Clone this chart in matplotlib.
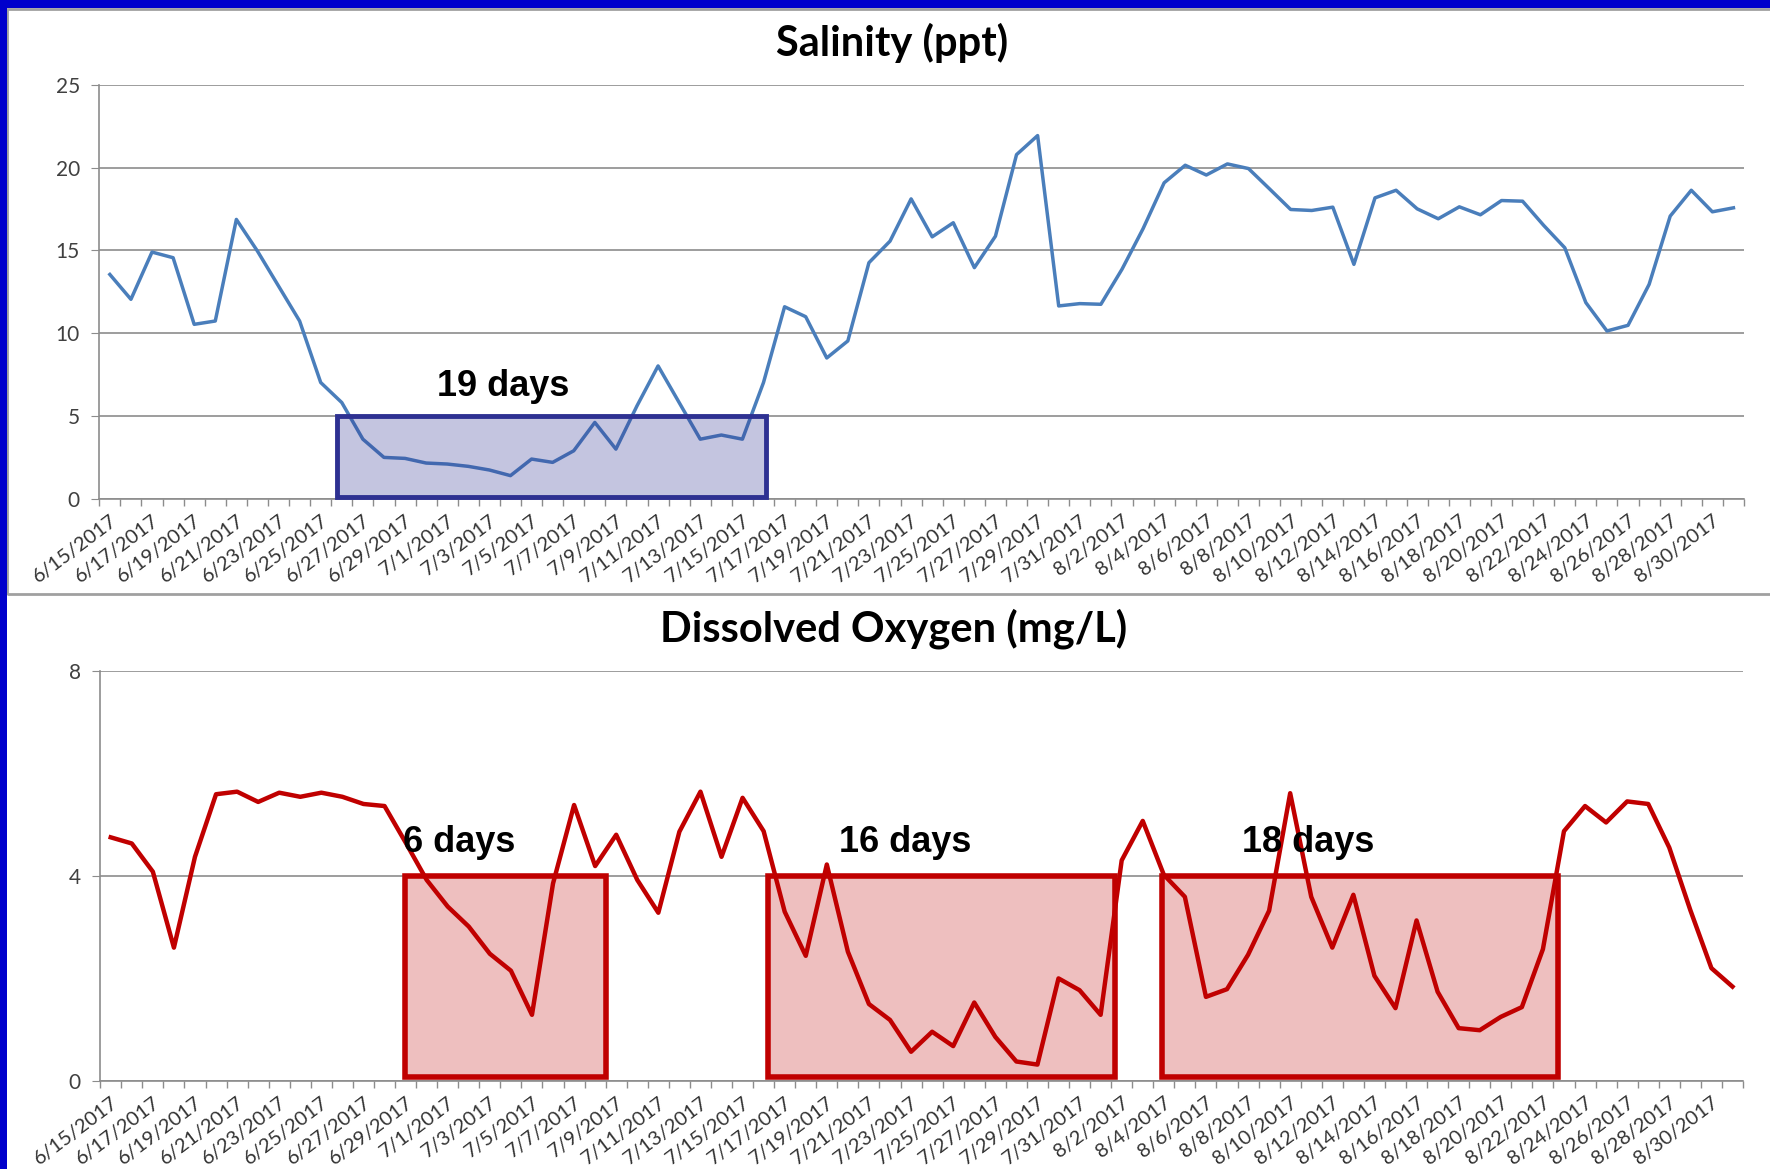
import matplotlib.pyplot as plt
import matplotlib.patches as patches
import pandas as pd

# daily categories 6/15/2017 .. 8/31/2017
dates = pd.date_range('2017-06-15', '2017-08-31', freq='D')
date_labels = [f"{d.month}/{d.day}/{d.year}" for d in dates]

# salinity (ppt)
salinity = [13.55, 12.05, 14.9, 14.56, 10.54, 10.74, 16.87, 14.96, 12.85, 10.74,
            7.03, 5.82, 3.61, 2.51, 2.45, 2.17, 2.11, 1.97, 1.75, 1.41,
            2.41, 2.21, 2.91, 4.62, 3.01, 5.62, 8.03, 5.82, 3.61, 3.86,
            3.61, 7.03, 11.6, 11.0, 8.51, 9.54, 14.26, 15.56, 18.11, 15.82,
            16.67, 13.96, 15.86, 20.78, 21.93, 11.65, 11.79, 11.75, 13.86, 16.31,
            19.08, 20.14, 19.55, 20.22, 19.94, 18.71, 17.47, 17.41, 17.61, 14.16,
            18.17, 18.63, 17.51, 16.91, 17.63, 17.15, 18.01, 17.97, 16.51, 15.16,
            11.85, 10.14, 10.48, 12.95, 17.07, 18.63, 17.33, 17.57]

# dissolved oxygen (mg/L)
dissolved_oxygen = [4.75, 4.63, 4.08, 2.60, 4.37, 5.59, 5.64, 5.44, 5.62, 5.54,
                    5.62, 5.54, 5.40, 5.36, 4.65, 3.92, 3.40, 3.01, 2.48, 2.15,
                    1.29, 3.85, 5.38, 4.19, 4.80, 3.92, 3.28, 4.86, 5.64, 4.37,
                    5.52, 4.87, 3.30, 2.44, 4.22, 2.52, 1.50, 1.19, 0.57, 0.96,
                    0.68, 1.53, 0.86, 0.38, 0.32, 2.00, 1.77, 1.29, 4.30, 5.07,
                    4.02, 3.59, 1.64, 1.79, 2.46, 3.32, 5.61, 3.59, 2.60, 3.63,
                    2.05, 1.42, 3.13, 1.74, 1.03, 0.99, 1.25, 1.44, 2.57, 4.87,
                    5.36, 5.04, 5.45, 5.40, 4.55, 3.33, 2.20, 1.84]

sal_yticks = [0, 5, 10, 15, 20, 25]
do_yticks = [0, 4, 8]

W, H = 1770, 1169
fig = plt.figure(figsize=(W / 100, H / 100), dpi=100)
fig.patch.set_facecolor('white')

# blue slide frame + gray box round the top chart
fig.add_artist(patches.Rectangle((0, 1 - 8 / H), 1, 8 / H, transform=fig.transFigure,
                                 facecolor='#0000cc', edgecolor='none', zorder=5))
fig.add_artist(patches.Rectangle((0, 0), 7 / W, 1, transform=fig.transFigure,
                                 facecolor='#0000cc', edgecolor='none', zorder=5))
fig.add_artist(patches.Rectangle((7 / W, 1 - 594 / H), 1.0, (594 - 9) / H,
                                 transform=fig.transFigure, facecolor='none',
                                 edgecolor='#a0a0a0', lw=2, zorder=4))

tick_font = ['Lato', 'DejaVu Sans']
title_font = ['Lato', 'DejaVu Sans']
note_font = ['Liberation Sans', 'DejaVu Sans']
x = list(range(len(dates)))


def style_axis(ax, yticks):
    ax.set_xlim(-0.5, len(dates) - 0.5)
    ax.set_ylim(yticks[0], yticks[-1])
    ax.set_yticks(yticks)
    ax.set_yticklabels([str(t) for t in yticks], fontsize=15, color='#404040',
                       family=tick_font)
    ax.yaxis.grid(True, color='#8c8c8c', lw=1.2)
    ax.set_axisbelow(True)
    for s in ['top', 'right']:
        ax.spines[s].set_visible(False)
    for s in ['left', 'bottom']:
        ax.spines[s].set_color('#8c8c8c')
        ax.spines[s].set_linewidth(1.2)
    ax.tick_params(axis='y', length=6, color='#8c8c8c', pad=8)
    ax.set_xticks(x[::2])
    ax.set_xticklabels(date_labels[::2], rotation=37, ha='right',
                       rotation_mode='anchor', fontsize=14.5, color='#333333',
                       family=tick_font)
    ax.set_xticks([i - 0.5 for i in range(len(dates) + 1)], minor=True)
    ax.tick_params(axis='x', which='major', length=0, pad=9)
    ax.tick_params(axis='x', which='minor', length=5, color='#8c8c8c', width=1)


# ---- salinity ----
ax1 = fig.add_axes([99.3 / W, 1 - 499 / H, (1744 - 99.3) / W, (499 - 84.7) / H])
style_axis(ax1, sal_yticks)
ax1.plot(x, salinity, color='#4a7ebb', lw=2.5, zorder=3)
ax1.add_patch(patches.Rectangle((10.75, 0.15), 31.1 - 10.75, 5.0 - 0.15,
                                facecolor=(0.18, 0.19, 0.57, 0.28),
                                edgecolor='#2e3192', lw=3.5, zorder=4, clip_on=False))
ax1.text(15.5, 6.2, '19 days', fontsize=26, fontweight='bold', family=note_font,
         ha='left', va='baseline', zorder=5)
fig.text(892 / W, 1 - 43 / H, 'Salinity (ppt)', fontsize=30, fontweight='bold',
         family=title_font, ha='center', va='center')

# ---- dissolved oxygen ----
ax2 = fig.add_axes([100.2 / W, 1 - 1081 / H, (1743 - 100.2) / W, (1081 - 670.6) / H])
style_axis(ax2, do_yticks)
for x0, x1 in [(13.97, 23.5), (31.2, 47.7), (49.9, 68.7)]:
    ax2.add_patch(patches.Rectangle((x0, 0.08), x1 - x0, 4.0 - 0.08,
                                    facecolor=(0.75, 0.0, 0.0, 0.25),
                                    edgecolor='#c00000', lw=4, zorder=2, clip_on=False))
ax2.plot(x, dissolved_oxygen, color='#c00000', lw=3.2, zorder=3)
for xt, txt in [(13.9, '6 days'), (34.6, '16 days'), (53.7, '18 days')]:
    ax2.text(xt, 4.46, txt, fontsize=26, fontweight='bold', family=note_font,
             ha='left', va='baseline', zorder=5)
fig.text(894 / W, 1 - 629 / H, 'Dissolved Oxygen (mg/L)', fontsize=30,
         fontweight='bold', family=title_font, ha='center', va='center')

fig.savefig('out.png', dpi=100, facecolor='white')
